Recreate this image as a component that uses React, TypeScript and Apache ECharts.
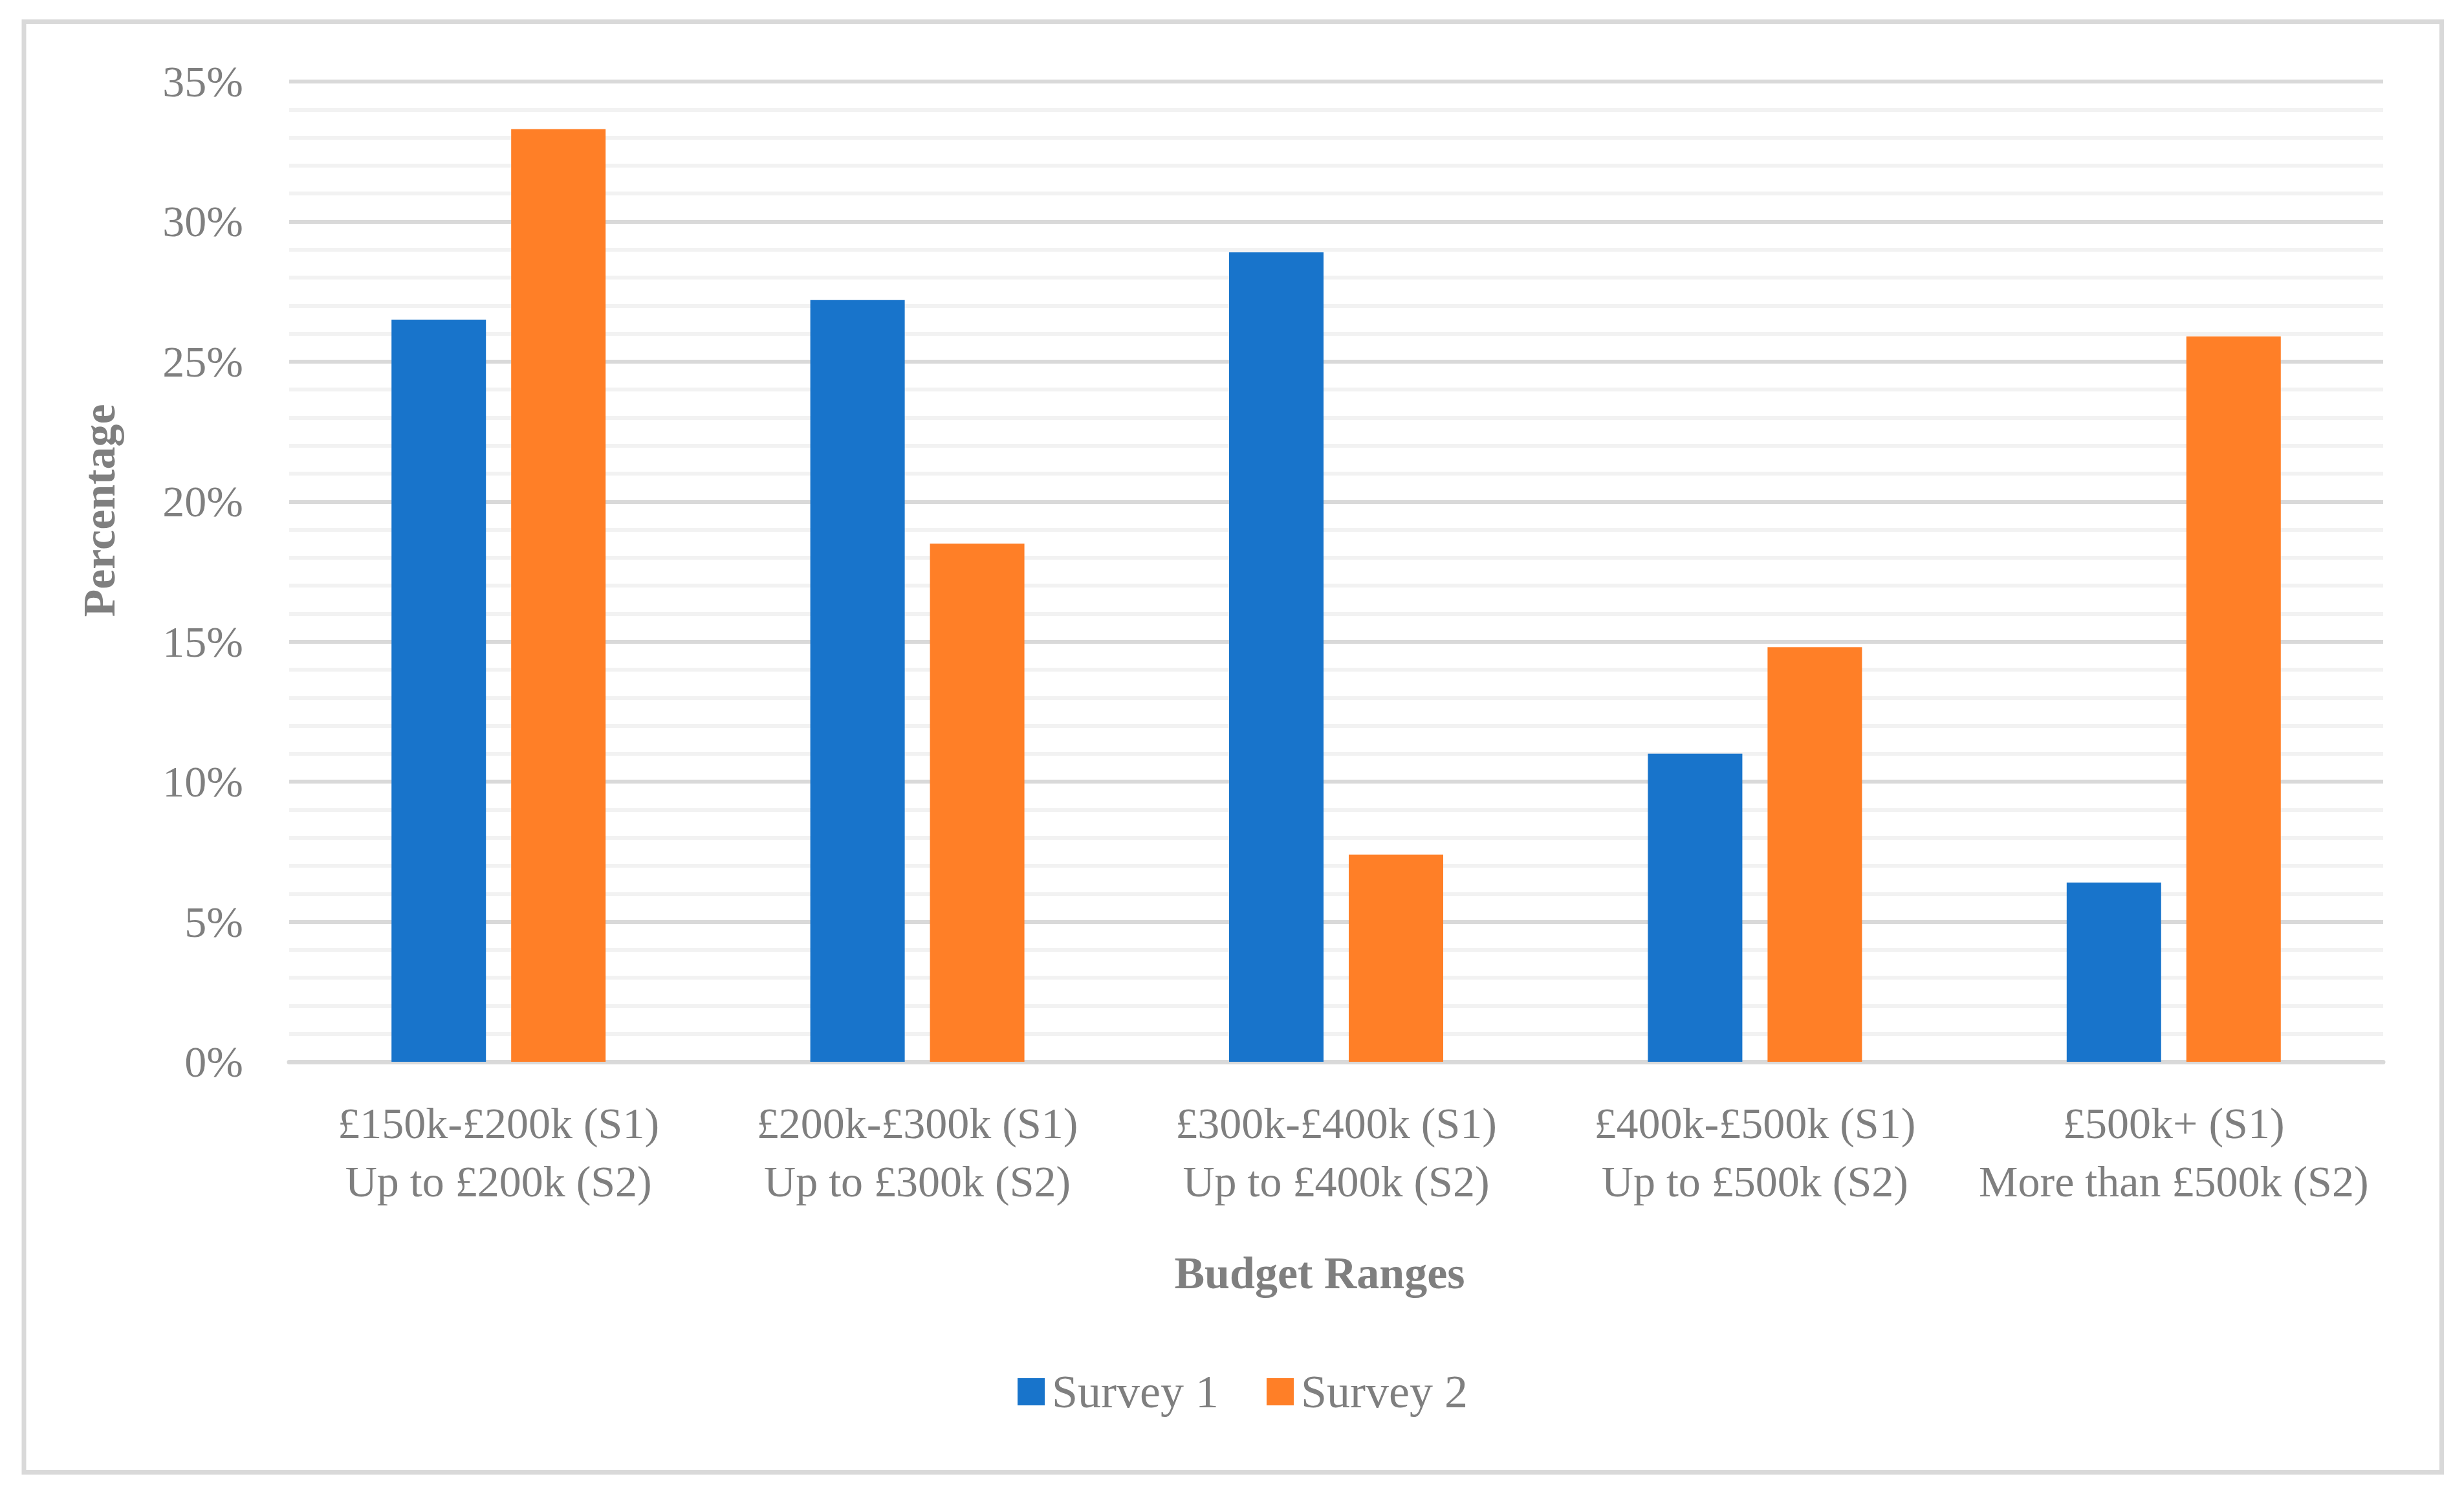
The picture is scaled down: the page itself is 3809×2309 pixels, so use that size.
import React, { useEffect, useRef } from "react";
import * as echarts from "echarts";

const categories = [
  "£150k-£200k (S1)\nUp to £200k (S2)",
  "£200k-£300k (S1)\nUp to £300k (S2)",
  "£300k-£400k (S1)\nUp to £400k (S2)",
  "£400k-£500k (S1)\nUp to £500k (S2)",
  "£500k+ (S1)\nMore than £500k (S2)",
];
const seriesNames = ["Survey 1", "Survey 2"];
const survey1 = [26.5, 27.2, 28.9, 11.0, 6.4];
const survey2 = [33.3, 18.5, 7.4, 14.8, 25.9];
const yTicks = { min: 0, max: 35, interval: 5 };
const xTitle = "Budget Ranges";
const yTitle = "Percentage";

const FONT = "'Liberation Serif', 'Times New Roman', serif";
const GRAY = "#7f7f7f";

export default function App() {
  const ref = useRef<HTMLDivElement>(null);
  useEffect(() => {
    if (!ref.current) return;
    const chart = echarts.init(ref.current, null, { renderer: "svg" });
    chart.setOption({
      animation: false,
      backgroundColor: "#ffffff",
      grid: { left: 447, right: 125, top: 126, bottom: 668, containLabel: false },
      legend: {
        data: seriesNames,
        left: 1568,
        top: 2110,
        itemWidth: 42,
        itemHeight: 42,
        itemGap: 74,
        icon: "rect",
        textStyle: { fontFamily: FONT, fontSize: 72, color: GRAY, padding: [0, 0, 0, 6] },
      },
      xAxis: {
        type: "category",
        data: categories,
        axisTick: { show: false },
        axisLine: { lineStyle: { color: "#d9d9d9", width: 7 } },
        axisLabel: {
          fontFamily: FONT,
          fontSize: 68,
          color: GRAY,
          lineHeight: 90,
          margin: 50,
          interval: 0,
        },
        splitLine: { show: false },
      },
      yAxis: {
        type: "value",
        min: yTicks.min,
        max: yTicks.max,
        interval: yTicks.interval,
        axisLine: { show: false },
        axisTick: { show: false },
        axisLabel: {
          formatter: "{value}%",
          fontFamily: FONT,
          fontSize: 68,
          color: GRAY,
          margin: 71,
        },
        splitLine: { show: true, lineStyle: { color: "#d9d9d9", width: 6 } },
        minorTick: { show: false, splitNumber: 5 },
        minorSplitLine: { show: true, lineStyle: { color: "#f2f2f2", width: 6 } },
      },
      series: [
        {
          name: seriesNames[0],
          type: "bar",
          data: survey1,
          barWidth: 146,
          barGap: "26.7%",
          itemStyle: { color: "#1874cb" },
        },
        {
          name: seriesNames[1],
          type: "bar",
          data: survey2,
          barWidth: 146,
          barGap: "26.7%",
          itemStyle: { color: "#ff7f27" },
        },
      ],
      graphic: [
        {
          type: "rect",
          shape: { x: 37, y: 33.5, width: 3737.5, height: 2242 },
          style: { fill: "none", stroke: "#d9d9d9", lineWidth: 7 },
          silent: true,
          z: -10,
        },
        {
          type: "text",
          x: 153,
          y: 789,
          rotation: Math.PI / 2,
          style: {
            text: yTitle,
            fontFamily: FONT,
            fontSize: 70,
            fontWeight: "bold",
            fill: GRAY,
            textAlign: "center",
            textVerticalAlign: "middle",
          },
        },
        {
          type: "text",
          x: 2040,
          y: 1967,
          style: {
            text: xTitle,
            fontFamily: FONT,
            fontSize: 70,
            fontWeight: "bold",
            fill: GRAY,
            textAlign: "center",
            textVerticalAlign: "middle",
          },
        },
      ],
    });
    return () => chart.dispose();
  }, []);
  return (
    <div
      ref={ref}
      style={{ position: "absolute", left: 0, top: 0, width: 3809, height: 2309, background: "#fff" }}
    />
  );
}
